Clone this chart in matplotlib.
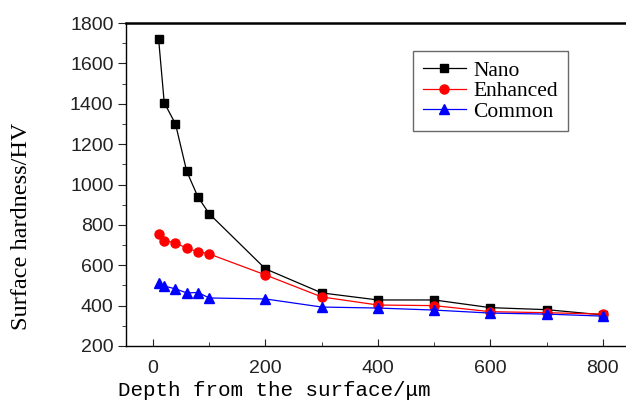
import matplotlib
matplotlib.use('Agg')
import matplotlib.pyplot as plt
from matplotlib.ticker import MultipleLocator

depth = [10, 20, 40, 60, 80, 100, 200, 300, 400, 500, 600, 700, 800]
nano = [1720, 1405, 1300, 1065, 938, 855, 582, 463, 428, 428, 390, 380, 354]
enhanced = [755, 722, 712, 683, 668, 656, 552, 443, 403, 400, 370, 365, 358]
common = [510, 497, 483, 463, 465, 438, 433, 393, 388, 378, 363, 358, 348]

fig = plt.figure(figsize=(6.26, 4.01), dpi=100)
ax = fig.add_axes([126 / 626, 55 / 401, 505 / 626, 323 / 401])

ax.plot(depth, nano, color='black', marker='s', markersize=6, linewidth=0.9, label='Nano')
ax.plot(depth, enhanced, color='red', marker='o', markersize=6.5, linewidth=0.9, label='Enhanced')
ax.plot(depth, common, color='blue', marker='^', markersize=6.5, linewidth=0.9, label='Common')

ax.set_xlim(-48, 850)
ax.set_ylim(200, 1800)
ax.xaxis.set_major_locator(MultipleLocator(200))
ax.xaxis.set_minor_locator(MultipleLocator(100))
ax.yaxis.set_major_locator(MultipleLocator(200))
ax.yaxis.set_minor_locator(MultipleLocator(100))

ax.spines['top'].set_linewidth(1.8)
ax.spines['left'].set_linewidth(1.0)
ax.spines['bottom'].set_linewidth(1.0)
ax.spines['right'].set_visible(False)

ax.tick_params(axis='x', which='both', direction='in', pad=10, labelsize=14, colors='#222222')
ax.tick_params(axis='x', which='major', length=5)
ax.tick_params(axis='x', which='minor', length=3)
ax.tick_params(axis='y', which='both', direction='out', pad=3, labelsize=14, colors='#222222')
ax.tick_params(axis='y', which='major', length=6)
ax.tick_params(axis='y', which='minor', length=3)
for lab in ax.get_xticklabels() + ax.get_yticklabels():
    lab.set_family('Liberation Sans')

fig.text(274 / 626, 1 - 390 / 401, 'Depth from the surface/\u03bcm', family='Liberation Mono',
         fontsize=15, ha='center', va='center')
fig.text(22 / 626, 1 - 226 / 401, 'Surface hardness/HV', family='Liberation Serif',
         fontsize=17.5, ha='center', va='center', rotation=90)

leg = ax.legend(loc='upper left', bbox_to_anchor=((413 - 126) / 505, 1 - (51 - 23) / 323),
                borderaxespad=0,
                prop={'family': 'Liberation Serif', 'size': 15.5}, frameon=True, fancybox=False,
                handlelength=2.0, handletextpad=0.35, labelspacing=0.02, borderpad=0.45)
leg.get_frame().set_edgecolor('#444444')
leg.get_frame().set_linewidth(1.0)

fig.savefig('out.png', dpi=100)
